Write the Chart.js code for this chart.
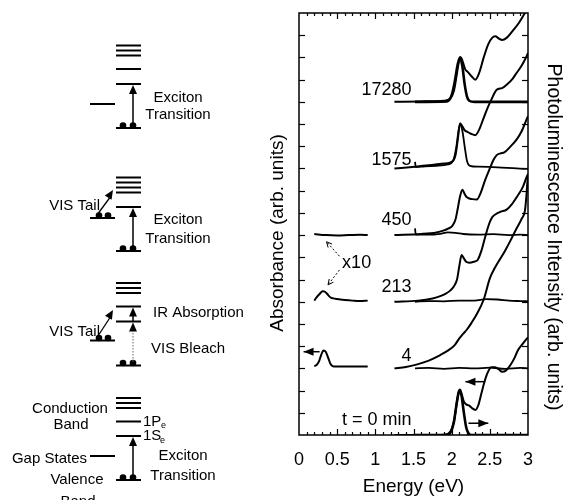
<!DOCTYPE html>
<html>
<head>
<meta charset="utf-8">
<script src="https://cdn.jsdelivr.net/npm/chart.js@4.4.1/dist/chart.umd.min.js"></script>
<style>
  html, body { margin: 0; padding: 0; background: #fff; }
  #wrap { width: 566px; height: 500px; }
</style>
</head>
<body>
<div id="wrap"><canvas id="spectra" width="566" height="500"></canvas></div>
<script>
// time labels and vertical offsets of each trace (arb. units)
const rowLabels = ['t = 0 min', '4', '213', '450', '1575', '17280'];
const rowOffsets = [0, 3, 6, 9, 12, 15];
const rowLabelY = [0.68, 3.56, 6.64, 9.66, 12.4, 15.54];
const xTicks = [0, 0.5, 1, 1.5, 2, 2.5, 3];

// absorbance, [energy eV, value above offset]
const abs0 = [[1.25,0],[1.85,0],[1.95,0.05],[2.0,0.25],[2.04,0.8],[2.07,1.5],[2.10,2.0],[2.13,1.85],[2.16,1.5],[2.19,1.38],[2.23,1.32],[2.27,1.2],[2.31,1.13],[2.35,1.35],[2.39,1.88],[2.43,2.4],[2.47,2.8],[2.52,3.05],[2.57,3.05],[2.62,2.95],[2.66,2.85],[2.71,2.9],[2.77,3.15],[2.82,3.45],[2.87,3.83],[2.93,4.1],[3.0,4.4]];
const abs4 = [[1.25,0],[1.4,0.06],[1.55,0.18],[1.7,0.35],[1.85,0.6],[1.95,0.8],[2.04,1.05],[2.1,1.35],[2.15,1.55],[2.2,1.75],[2.26,2.05],[2.33,2.45],[2.42,3.1],[2.5,4.05],[2.57,4.55],[2.63,4.9],[2.7,5.3],[2.77,5.75],[2.85,6.3],[2.92,6.75],[2.96,7.1],[2.98,7.8],[2.99,8.3],[3.0,8.7]];
const abs213 = [[1.25,0],[1.56,0.05],[1.75,0.15],[1.85,0.25],[1.93,0.38],[1.98,0.5],[2.03,0.7],[2.07,1.0],[2.1,1.6],[2.13,2.1],[2.16,1.95],[2.19,1.8],[2.23,1.76],[2.29,1.8],[2.34,1.88],[2.39,2.3],[2.44,2.93],[2.49,3.5],[2.53,3.8],[2.58,3.95],[2.64,4.05],[2.72,4.15],[2.79,4.4],[2.86,4.75],[2.93,5.15],[2.98,5.6],[3.0,5.75]];
const abs450 = [[1.25,0],[1.6,0.05],[1.8,0.12],[1.89,0.2],[1.96,0.3],[2.01,0.42],[2.05,0.7],[2.08,1.2],[2.11,1.75],[2.14,2.04],[2.17,1.85],[2.2,1.7],[2.27,1.62],[2.33,1.6],[2.38,1.9],[2.43,2.4],[2.5,3.0],[2.55,3.4],[2.59,3.6],[2.64,3.68],[2.69,3.72],[2.76,3.95],[2.85,4.3],[2.92,4.7],[2.98,5.2],[3.0,5.35]];
const abs1575 = [[1.25,0],[1.52,0.08],[1.7,0.14],[1.9,0.22],[2.0,0.3],[2.05,0.6],[2.08,1.3],[2.11,2.04],[2.14,1.9],[2.17,1.72],[2.2,1.66],[2.26,1.55],[2.31,1.5],[2.36,1.75],[2.42,2.28],[2.46,2.64],[2.52,3.1],[2.59,3.54],[2.66,3.62],[2.73,3.8],[2.8,4.05],[2.85,4.3],[2.92,4.65],[2.98,5.04],[3.0,5.2]];
const abs17280 = [[1.25,0],[1.6,0.02],[1.9,0.05],[1.98,0.15],[2.03,0.5],[2.07,1.3],[2.1,1.9],[2.12,2.0],[2.15,1.75],[2.18,1.45],[2.21,1.35],[2.26,1.15],[2.31,1.0],[2.36,1.3],[2.42,2.0],[2.48,2.6],[2.53,2.88],[2.57,2.95],[2.62,2.85],[2.66,2.78],[2.72,2.88],[2.8,3.2],[2.88,3.55],[2.96,4.0],[3.0,4.2]];

// photoluminescence, [energy eV, value above offset]
const pl0 = [[1.5,0],[1.95,0],[1.99,0.15],[2.03,0.6],[2.06,1.3],[2.09,1.9],[2.11,2.03],[2.13,1.75],[2.16,1.0],[2.19,0.35],[2.22,0.08],[2.26,0],[3.0,0]];
const pl4 = [[1.52,0],[1.7,0.02],[1.9,-0.02],[2.1,0.02],[2.3,0],[2.5,0.03],[2.7,-0.02],[2.9,0.02],[3.0,0]];
const pl213 = [[1.52,0],[1.7,0.03],[1.9,0.02],[2.1,0.05],[2.3,0.05],[2.45,0.12],[2.6,0.1],[2.75,0.05],[2.9,0.03],[3.0,0.02]];
const pl450 = [[1.52,0.3],[1.53,0.02],[1.7,0.02],[1.85,0.06],[1.95,0.12],[2.05,0.1],[2.15,0.05],[2.35,0.02],[2.55,0.04],[2.75,0],[2.9,0.02],[3.0,0]];
const pl1575 = [[1.52,0.3],[1.53,0.06],[1.65,0.1],[1.8,0.12],[1.95,0.18],[2.02,0.35],[2.06,0.95],[2.09,1.7],[2.11,2.0],[2.14,1.7],[2.17,1.0],[2.2,0.35],[2.24,0.12],[2.35,0.08],[2.6,0.05],[2.85,0],[3.0,-0.02]];
const pl17280 = [[1.52,0],[1.94,0.02],[2.0,0.3],[2.04,0.9],[2.08,1.7],[2.11,2.0],[2.14,1.6],[2.17,0.8],[2.2,0.25],[2.23,0.05],[2.3,0],[3.0,0]];

// IR absorbance (x10), [energy eV, value above offset]
const ir4 = [[0.2,0.1],[0.23,0.15],[0.26,0.3],[0.29,0.6],[0.32,0.8],[0.35,0.75],[0.38,0.5],[0.41,0.22],[0.44,0.1],[0.48,0.08],[0.7,0.08],[0.9,0.08]];
const ir213 = [[0.2,0.05],[0.23,0.2],[0.27,0.35],[0.31,0.47],[0.34,0.45],[0.37,0.35],[0.41,0.2],[0.45,0.15],[0.5,0.12],[0.6,0.08],[0.7,0.05],[0.8,0.03],[0.9,0.05]];
const ir450 = [[0.2,0.05],[0.35,0],[0.5,-0.02],[0.65,0],[0.8,0.02],[0.9,0]];

// arrows drawn in data units: [E from, Y from, E to, Y to]
const plotArrows = [[2.44,2.4,2.18,2.4],[2.22,0.53,2.48,0.53],[0.27,3.75,0.06,3.75]];
const x10Arrows = [[0.53,8.05,0.36,8.7],[0.53,7.43,0.38,6.76]];

const absSets = [abs0, abs4, abs213, abs450, abs1575, abs17280];
const plSets = [pl0, pl4, pl213, pl450, pl1575, pl17280];
const irSets = [null, ir4, ir213, ir450, null, null];

const FONT = '"Liberation Sans", Arial, Helvetica, sans-serif';

function shift(arr, off) {
    return arr.map(p => ({x: p[0], y: p[1] + off}));
}

const datasets = [];
rowOffsets.forEach((off, i) => {
    datasets.push({ label: 'Abs ' + rowLabels[i], data: shift(absSets[i], off), borderWidth: 2 });
    datasets.push({ label: 'PL ' + rowLabels[i], data: shift(plSets[i], off), borderWidth: (i === 0 || i === 5) ? 2.6 : 1.8 });
    if (irSets[i]) datasets.push({ label: 'IR ' + rowLabels[i], data: shift(irSets[i], off), borderWidth: 2 });
});
datasets.forEach(d => {
    d.borderColor = '#000';
    d.backgroundColor = '#000';
    d.pointRadius = 0;
    d.fill = false;
    d.cubicInterpolationMode = 'monotone';
});

function seg(ctx, x1, y1, x2, y2, w) {
    ctx.lineWidth = w;
    ctx.beginPath(); ctx.moveTo(x1, y1); ctx.lineTo(x2, y2); ctx.stroke();
}
function head(ctx, x1, y1, x2, y2, len, wid) {
    const a = Math.atan2(y2 - y1, x2 - x1);
    const c = Math.cos(a), s = Math.sin(a);
    ctx.beginPath();
    ctx.moveTo(x2, y2);
    ctx.lineTo(x2 - len * c + wid * s, y2 - len * s - wid * c);
    ctx.lineTo(x2 - len * c - wid * s, y2 - len * s + wid * c);
    ctx.closePath(); ctx.fill();
}

// inward frame ticks, annotations and axis titles
const framePlugin = {
    id: 'frame',
    afterDatasetsDraw(chart) {
        const {ctx, chartArea: a, scales: {x, y}} = chart;
        ctx.save();
        ctx.strokeStyle = '#000';
        ctx.fillStyle = '#000';
        ctx.lineWidth = 1.5;
        ctx.strokeRect(a.left, a.top, a.right - a.left, a.bottom - a.top);
        for (let v = 1; v < 19; v++) {
            const py = Math.round(y.getPixelForValue(v)) + 0.5;
            seg(ctx, a.left, py, a.left + 6, py, 1.2);
            seg(ctx, a.right - 6, py, a.right, py, 1.2);
        }
        for (let i = 1; i < 30; i++) {
            const px = Math.round(x.getPixelForValue(i / 10)) + 0.5;
            const len = i % 5 === 0 ? 6 : 3;
            seg(ctx, px, a.top, px, a.top + len, 1.2);
            seg(ctx, px, a.bottom - len, px, a.bottom, 1.2);
        }
        // row labels
        ctx.font = '18px ' + FONT;
        ctx.textAlign = 'right';
        ctx.textBaseline = 'middle';
        rowLabels.forEach((t, i) => {
            ctx.fillText(t, x.getPixelForValue(1.475), y.getPixelForValue(rowLabelY[i]));
        });
        ctx.textAlign = 'center';
        ctx.fillText('x10', x.getPixelForValue(0.755), y.getPixelForValue(7.75));
        // arrows
        plotArrows.forEach(r => {
            const x1 = x.getPixelForValue(r[0]), y1 = y.getPixelForValue(r[1]);
            const x2 = x.getPixelForValue(r[2]), y2 = y.getPixelForValue(r[3]);
            seg(ctx, x1, y1, x2, y2, 1.5);
            head(ctx, x1, y1, x2, y2, 10, 4);
        });
        ctx.setLineDash([2, 2]);
        x10Arrows.forEach(r => {
            const x1 = x.getPixelForValue(r[0]), y1 = y.getPixelForValue(r[1]);
            const x2 = x.getPixelForValue(r[2]), y2 = y.getPixelForValue(r[3]);
            seg(ctx, x1, y1, x2, y2, 1);
        });
        ctx.setLineDash([]);
        x10Arrows.forEach(r => {
            const x1 = x.getPixelForValue(r[0]), y1 = y.getPixelForValue(r[1]);
            const x2 = x.getPixelForValue(r[2]), y2 = y.getPixelForValue(r[3]);
            const an = Math.atan2(y2 - y1, x2 - x1);
            ctx.lineWidth = 1;
            ctx.beginPath();
            ctx.moveTo(x2 - 6 * Math.cos(an - 0.45), y2 - 6 * Math.sin(an - 0.45));
            ctx.lineTo(x2, y2);
            ctx.lineTo(x2 - 6 * Math.cos(an + 0.45), y2 - 6 * Math.sin(an + 0.45));
            ctx.stroke();
        });
        // y axis titles
        ctx.textAlign = 'center';
        ctx.textBaseline = 'middle';
        ctx.font = '19px ' + FONT;
        ctx.save();
        ctx.translate(278, 233);
        ctx.rotate(-Math.PI / 2);
        ctx.fillText('Absorbance (arb. units)', 0, 0);
        ctx.restore();
        ctx.font = '19.5px ' + FONT;
        ctx.save();
        ctx.translate(553, 237);
        ctx.rotate(Math.PI / 2);
        ctx.fillText('Photoluminescence Intensity (arb. units)', 0, 0);
        ctx.restore();
        ctx.restore();
    }
};

// energy level schematics on the left
const levelL = 116, levelR = 141, arrowX = 133;
const panels = [
    {stack: [45.5, 50.5, 55.5], p: 69, s: 84, gap: 104, val: 128},
    {stack: [177.5, 182.5, 187.5], p: 192.5, s: 207, gap: 218, val: 251, tail: 190},
    {stack: [283, 288, 293], p: 306.5, s: 321.5, gap: 340.5, val: 365.5, tail: 310, ir: true},
    {stack: [398, 403, 408], p: 421.5, s: 436, gap: 456, val: 480}
];
const diagramText = [
    ['Exciton', 178, 98, 'center'], ['Transition', 178, 115, 'center'],
    ['VIS Tail', 100, 206, 'right'], ['Exciton', 178, 220, 'center'], ['Transition', 178, 239, 'center'],
    ['VIS Tail', 100, 332, 'right'], ['IR Absorption', 153, 313, 'left'], ['VIS Bleach', 151, 349, 'left'],
    ['Conduction', 70, 409, 'center'], ['Band', 71, 425, 'center'], ['Gap States', 87, 459, 'right'],
    ['Valence', 77, 480, 'center'], ['Band', 78, 502, 'center'],
    ['Exciton', 183, 456, 'center'], ['Transition', 183, 476, 'center']
];

const diagramPlugin = {
    id: 'diagram',
    afterDraw(chart) {
        const ctx = chart.ctx;
        ctx.save();
        ctx.strokeStyle = '#000';
        ctx.fillStyle = '#000';
        panels.forEach(pn => {
            pn.stack.forEach(v => seg(ctx, levelL, v, levelR, v, 2));
            seg(ctx, levelL, pn.p, levelR, pn.p, 2);
            seg(ctx, levelL, pn.s, levelR, pn.s, 2);
            seg(ctx, 90, pn.gap, levelL - 1, pn.gap, 2);
            seg(ctx, levelL, pn.val, levelR, pn.val, 2);
            [123, 133].forEach(cx => {
                ctx.beginPath(); ctx.arc(cx, pn.val - 2.5, 3.3, 0, Math.PI * 2); ctx.fill();
            });
            if (pn.ir) {
                ctx.strokeStyle = '#666';
                ctx.setLineDash([1.5, 1.5]);
                seg(ctx, arrowX, pn.val - 4, arrowX, pn.s + 6, 1);
                ctx.setLineDash([]);
                ctx.strokeStyle = '#000';
                head(ctx, arrowX, pn.val, arrowX, pn.s + 1, 9, 4);
                seg(ctx, arrowX, pn.s, arrowX, pn.p + 6, 1.5);
                head(ctx, arrowX, pn.s, arrowX, pn.p + 1, 9, 4);
            } else {
                seg(ctx, arrowX, pn.val - 4, arrowX, pn.s + 6, 1.5);
                head(ctx, arrowX, pn.val, arrowX, pn.s + 1, 9, 4);
            }
            if (pn.tail) {
                [99, 108].forEach(cx => {
                    ctx.beginPath(); ctx.arc(cx, pn.gap - 2.5, 3.3, 0, Math.PI * 2); ctx.fill();
                });
                seg(ctx, 97, pn.gap - 3, 111, pn.tail + 6, 1.3);
                head(ctx, 97, pn.gap - 3, 113, pn.tail, 9, 4);
            }
        });
        ctx.font = '15px ' + FONT;
        ctx.textBaseline = 'middle';
        diagramText.forEach(t => {
            ctx.textAlign = t[3];
            ctx.fillText(t[0], t[1], t[2]);
        });
        // level labels with subscripts
        ctx.textAlign = 'left';
        ctx.fillText('1P', 143, 421.5);
        ctx.fillText('1S', 143, 436);
        ctx.font = '9px ' + FONT;
        ctx.fillText('e', 161, 426);
        ctx.fillText('e', 160, 440.5);
        ctx.restore();
    }
};

new Chart(document.getElementById('spectra').getContext('2d'), {
    type: 'line',
    data: { datasets: datasets },
    options: {
        responsive: false,
        animation: false,
        layout: { padding: { top: 13, right: 38, bottom: 0, left: 299 } },
        plugins: { legend: { display: false }, tooltip: { enabled: false } },
        scales: {
            x: {
                type: 'linear',
                min: 0,
                max: 3,
                afterBuildTicks: s => { s.ticks = xTicks.map(v => ({value: v})); },
                afterFit: s => { s.height = 65; },
                grid: { display: false, drawTicks: false },
                border: { display: false },
                ticks: {
                    color: '#000', padding: 14, maxRotation: 0,
                    font: { size: 18, family: FONT },
                    callback: v => String(v)
                },
                title: { display: true, text: 'Energy (eV)', color: '#000', padding: { top: 0, bottom: 2 }, font: { size: 19, family: FONT } }
            },
            y: {
                display: false,
                min: 0,
                max: 19
            }
        }
    },
    plugins: [framePlugin, diagramPlugin]
});
</script>
</body>
</html>
